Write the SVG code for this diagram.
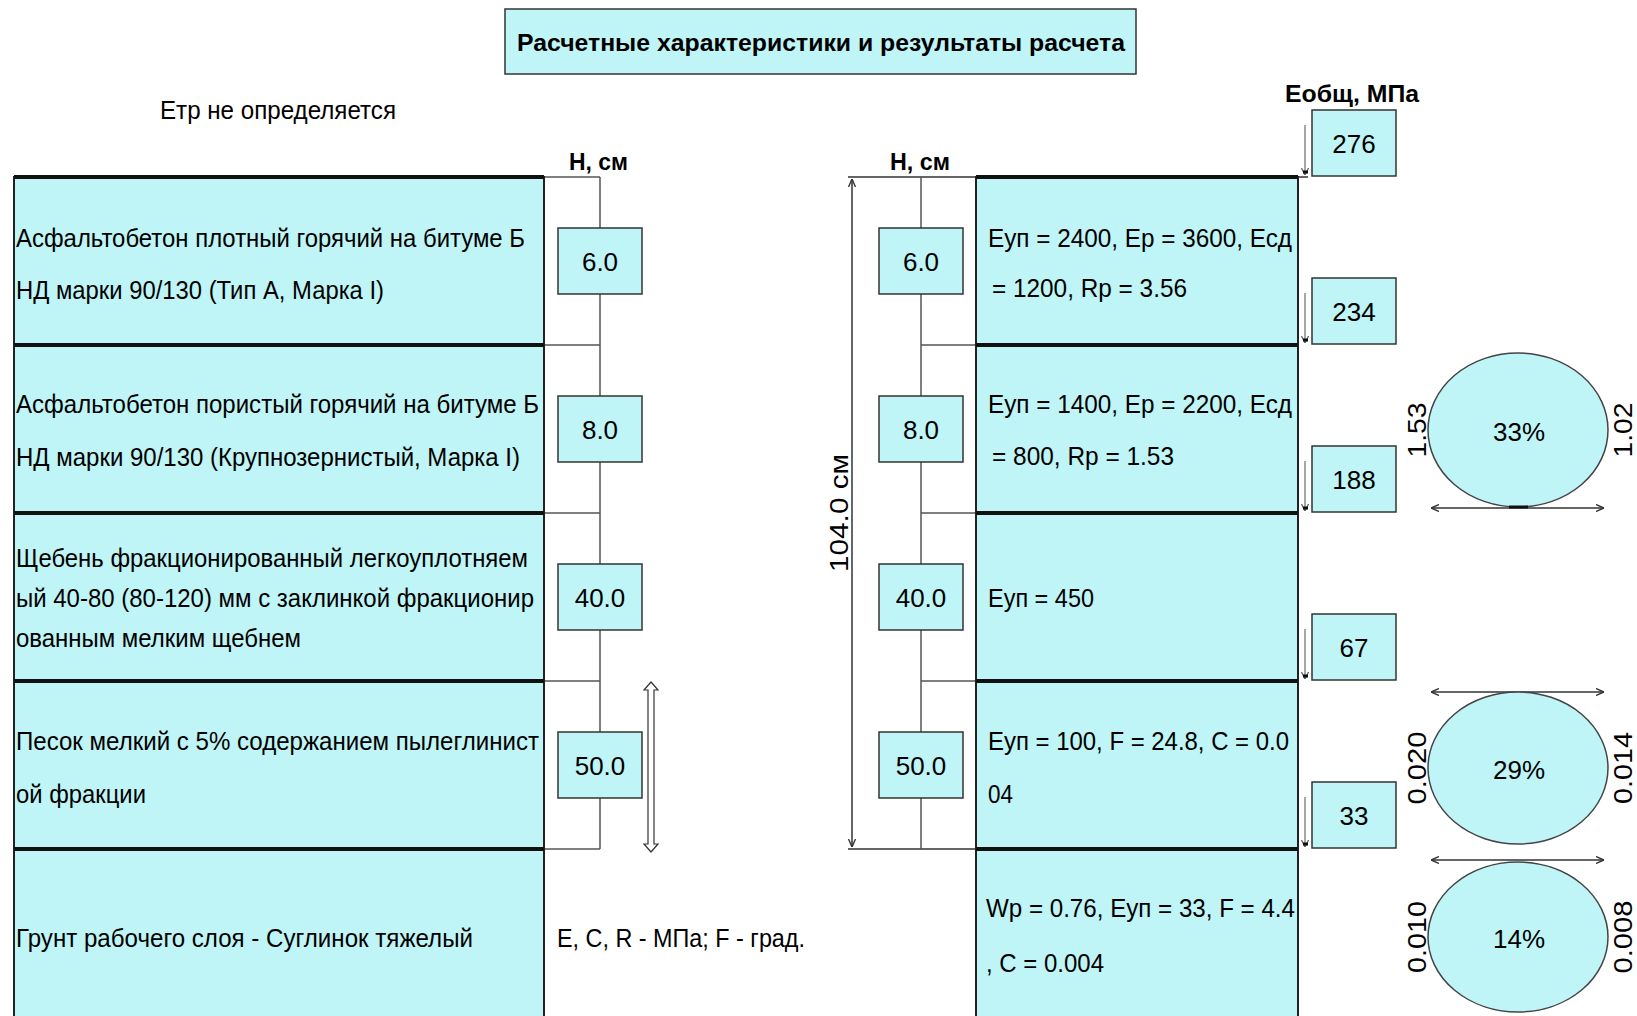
<svg xmlns="http://www.w3.org/2000/svg" width="1637" height="1016" viewBox="0 0 1637 1016">
<defs>
<style>
.bg{fill:#ffffff}
.cy{fill:#bff5f6;stroke:#222;stroke-width:2}
.vb{fill:#bff5f6;stroke:#333;stroke-width:1.5}
.thick{stroke:#111;stroke-width:4;fill:none}
.thin{stroke:#555;stroke-width:1.5;fill:none}
.dim{stroke:#333;stroke-width:1.5;fill:none}
.garr{stroke:#888;stroke-width:1.5;fill:none}
.t{font-family:"Liberation Sans",Arial,sans-serif;font-size:26px;fill:#000}
.n{font-family:"Liberation Sans",Arial,sans-serif;font-size:26px;fill:#000;text-anchor:middle}
.b{font-family:"Liberation Sans",Arial,sans-serif;font-size:23px;font-weight:bold;fill:#000}
.r{font-family:"Liberation Sans",Arial,sans-serif;font-size:26px;fill:#000;text-anchor:middle}
</style>
<marker id="v" viewBox="0 0 8 8" refX="8" refY="4" markerWidth="8" markerHeight="8" markerUnits="userSpaceOnUse" orient="auto-start-reverse">
<path d="M0,0.5 L8,4 L0,7.5" fill="none" stroke="#333" stroke-width="1.4"/>
</marker>
<marker id="g" viewBox="0 0 8 10" refX="4" refY="10" markerWidth="8" markerHeight="10" markerUnits="userSpaceOnUse" orient="0">
<path d="M0.5,3 L4,10 L7.5,3" fill="none" stroke="#666" stroke-width="1.3"/>
</marker>
</defs>
<rect class="bg" x="0" y="0" width="1637" height="1016"/>

<g id="title">
<rect class="vb" x="505" y="9" width="631" height="65"/>
<text class="b" x="517" y="51" font-size="26" textLength="608" lengthAdjust="spacingAndGlyphs">Расчетные характеристики и результаты расчета</text>
</g>

<g id="etr-note">
<text class="t" x="160" y="119" font-size="24" textLength="236" lengthAdjust="spacingAndGlyphs">Етр не определяется</text>
</g>

<g id="headers">
<text class="b" x="569" y="170" textLength="59" lengthAdjust="spacingAndGlyphs">H, см</text>
<text class="b" x="890" y="170" textLength="60" lengthAdjust="spacingAndGlyphs">H, см</text>
<text class="b" x="1285" y="102" font-size="24" textLength="134" lengthAdjust="spacingAndGlyphs">Еобщ, МПа</text>
</g>

<g id="connectors">
<path class="thin" d="M600,177 V849 M544,177 H600 M544,345 H600 M544,513 H600 M544,681 H600 M544,849 H600"/>
<path class="dim" d="M848,177 H1308 M848,849 H976"/>
<path class="thin" d="M921,177 V849 M921,345 H976 M921,513 H976 M921,681 H976"/>
<line class="dim" x1="852" y1="179" x2="852" y2="847" marker-start="url(#v)" marker-end="url(#v)"/>
<line class="garr" x1="1305" y1="125" x2="1305" y2="175" marker-end="url(#g)"/>
<line class="garr" x1="1305" y1="293" x2="1305" y2="343" marker-end="url(#g)"/>
<line class="garr" x1="1305" y1="461" x2="1305" y2="511" marker-end="url(#g)"/>
<line class="garr" x1="1305" y1="629" x2="1305" y2="679" marker-end="url(#g)"/>
<line class="garr" x1="1305" y1="797" x2="1305" y2="847" marker-end="url(#g)"/>
<path d="M1303,172 H1308 M1303,340 H1308 M1303,508 H1308 M1303,676 H1308 M1303,844 H1308" stroke="#111" stroke-width="3"/>
<path d="M651,682 L658,690 L654,690 L654,844 L658,844 L651,852 L644,844 L648,844 L648,690 L644,690 Z" fill="#fff" stroke="#333" stroke-width="1.2"/>
<line class="dim" x1="1431" y1="508" x2="1604" y2="508" marker-start="url(#v)" marker-end="url(#v)"/>
<line class="dim" x1="1431" y1="692" x2="1604" y2="692" marker-start="url(#v)" marker-end="url(#v)"/>
<line class="dim" x1="1431" y1="860" x2="1604" y2="860" marker-start="url(#v)" marker-end="url(#v)"/>
</g>

<g id="dim-label">
<text class="r" transform="translate(848,513) rotate(-90)" textLength="118" lengthAdjust="spacingAndGlyphs">104.0 см</text>
</g>

<g id="layer-1">
<rect class="cy" x="14" y="177" width="530" height="168"/>
<text class="t" x="16" y="247" textLength="509" lengthAdjust="spacingAndGlyphs">Асфальтобетон плотный горячий на битуме Б</text>
<text class="t" x="16" y="299" textLength="368" lengthAdjust="spacingAndGlyphs">НД марки 90/130 (Тип А, Марка I)</text>
</g>
<g id="layer-2">
<rect class="cy" x="14" y="345" width="530" height="168"/>
<text class="t" x="16" y="413" textLength="523" lengthAdjust="spacingAndGlyphs">Асфальтобетон пористый горячий на битуме Б</text>
<text class="t" x="16" y="466" textLength="504" lengthAdjust="spacingAndGlyphs">НД марки 90/130 (Крупнозернистый, Марка I)</text>
</g>
<g id="layer-3">
<rect class="cy" x="14" y="513" width="530" height="168"/>
<text class="t" x="16" y="567" textLength="512" lengthAdjust="spacingAndGlyphs">Щебень фракционированный легкоуплотняем</text>
<text class="t" x="16" y="607" textLength="518" lengthAdjust="spacingAndGlyphs">ый 40-80 (80-120) мм с заклинкой фракционир</text>
<text class="t" x="16" y="647" textLength="285" lengthAdjust="spacingAndGlyphs">ованным мелким щебнем</text>
</g>
<g id="layer-4">
<rect class="cy" x="14" y="681" width="530" height="168"/>
<text class="t" x="16" y="750" textLength="523" lengthAdjust="spacingAndGlyphs">Песок мелкий с 5% содержанием пылеглинист</text>
<text class="t" x="16" y="803" textLength="130" lengthAdjust="spacingAndGlyphs">ой фракции</text>
</g>
<g id="layer-5">
<rect class="cy" x="14" y="849" width="530" height="180"/>
<text class="t" x="16" y="947" textLength="457" lengthAdjust="spacingAndGlyphs">Грунт рабочего слоя - Суглинок тяжелый</text>
</g>
<g id="units-note">
<text class="t" x="557" y="947" textLength="248" lengthAdjust="spacingAndGlyphs">E, C, R - МПа; F - град.</text>
</g>

<g id="data-1">
<rect class="cy" x="976" y="177" width="322" height="168"/>
<text class="t" x="988" y="247" textLength="304" lengthAdjust="spacingAndGlyphs">Еуп = 2400, Ер = 3600, Есд</text>
<text class="t" x="992" y="297" textLength="195" lengthAdjust="spacingAndGlyphs">= 1200, Rp = 3.56</text>
</g>
<g id="data-2">
<rect class="cy" x="976" y="345" width="322" height="168"/>
<text class="t" x="988" y="413" textLength="304" lengthAdjust="spacingAndGlyphs">Еуп = 1400, Ер = 2200, Есд</text>
<text class="t" x="992" y="465" textLength="182" lengthAdjust="spacingAndGlyphs">= 800, Rp = 1.53</text>
</g>
<g id="data-3">
<rect class="cy" x="976" y="513" width="322" height="168"/>
<text class="t" x="988" y="607" textLength="106" lengthAdjust="spacingAndGlyphs">Еуп = 450</text>
</g>
<g id="data-4">
<rect class="cy" x="976" y="681" width="322" height="168"/>
<text class="t" x="988" y="750" textLength="301" lengthAdjust="spacingAndGlyphs">Еуп = 100, F = 24.8, C = 0.0</text>
<text class="t" x="988" y="803" textLength="25" lengthAdjust="spacingAndGlyphs">04</text>
</g>
<g id="data-5">
<rect class="cy" x="976" y="849" width="322" height="180"/>
<text class="t" x="986" y="917" textLength="309" lengthAdjust="spacingAndGlyphs">Wp = 0.76, Еуп = 33, F = 4.4</text>
<text class="t" x="986" y="972" textLength="118" lengthAdjust="spacingAndGlyphs">, C = 0.004</text>
</g>

<g id="boundaries">
<path class="thick" d="M14,177 H544 M14,345 H544 M14,513 H544 M14,681 H544 M14,849 H544"/>
<path class="thick" d="M976,177 H1298 M976,345 H1298 M976,513 H1298 M976,681 H1298 M976,849 H1298"/>
</g>

<g id="h-left-1"><rect class="vb" x="558" y="228" width="84" height="66"/><text class="n" x="600" y="271">6.0</text></g>
<g id="h-left-2"><rect class="vb" x="558" y="396" width="84" height="66"/><text class="n" x="600" y="439">8.0</text></g>
<g id="h-left-3"><rect class="vb" x="558" y="564" width="84" height="66"/><text class="n" x="600" y="607">40.0</text></g>
<g id="h-left-4"><rect class="vb" x="558" y="732" width="84" height="66"/><text class="n" x="600" y="775">50.0</text></g>

<g id="h-right-1"><rect class="vb" x="879" y="228" width="84" height="66"/><text class="n" x="921" y="271">6.0</text></g>
<g id="h-right-2"><rect class="vb" x="879" y="396" width="84" height="66"/><text class="n" x="921" y="439">8.0</text></g>
<g id="h-right-3"><rect class="vb" x="879" y="564" width="84" height="66"/><text class="n" x="921" y="607">40.0</text></g>
<g id="h-right-4"><rect class="vb" x="879" y="732" width="84" height="66"/><text class="n" x="921" y="775">50.0</text></g>

<g id="e-276"><rect class="vb" x="1312" y="110" width="84" height="66"/><text class="n" x="1354" y="153">276</text></g>
<g id="e-234"><rect class="vb" x="1312" y="278" width="84" height="66"/><text class="n" x="1354" y="321">234</text></g>
<g id="e-188"><rect class="vb" x="1312" y="446" width="84" height="66"/><text class="n" x="1354" y="489">188</text></g>
<g id="e-67"><rect class="vb" x="1312" y="614" width="84" height="66"/><text class="n" x="1354" y="657">67</text></g>
<g id="e-33"><rect class="vb" x="1312" y="782" width="84" height="66"/><text class="n" x="1354" y="825">33</text></g>

<g id="ellipse-33">
<ellipse cx="1518" cy="430" rx="90" ry="77" fill="#bff5f6" stroke="#444" stroke-width="1.5"/>
<path d="M1509,507 H1528" stroke="#111" stroke-width="3"/>
<text class="n" x="1519" y="441" font-size="25">33%</text>
<text class="r" transform="translate(1426,430) rotate(-90)" textLength="55" lengthAdjust="spacingAndGlyphs">1.53</text>
<text class="r" transform="translate(1632,430) rotate(-90)" textLength="55" lengthAdjust="spacingAndGlyphs">1.02</text>
</g>
<g id="ellipse-29">
<ellipse cx="1518" cy="768" rx="90" ry="76" fill="#bff5f6" stroke="#444" stroke-width="1.5"/>
<text class="n" x="1519" y="779" font-size="25">29%</text>
<text class="r" transform="translate(1426,768) rotate(-90)" textLength="73" lengthAdjust="spacingAndGlyphs">0.020</text>
<text class="r" transform="translate(1632,768) rotate(-90)" textLength="72" lengthAdjust="spacingAndGlyphs">0.014</text>
</g>
<g id="ellipse-14">
<ellipse cx="1518" cy="937" rx="90" ry="75" fill="#bff5f6" stroke="#444" stroke-width="1.5"/>
<text class="n" x="1519" y="948" font-size="25">14%</text>
<text class="r" transform="translate(1426,937) rotate(-90)" textLength="72" lengthAdjust="spacingAndGlyphs">0.010</text>
<text class="r" transform="translate(1632,937) rotate(-90)" textLength="73" lengthAdjust="spacingAndGlyphs">0.008</text>
</g>
</svg>
